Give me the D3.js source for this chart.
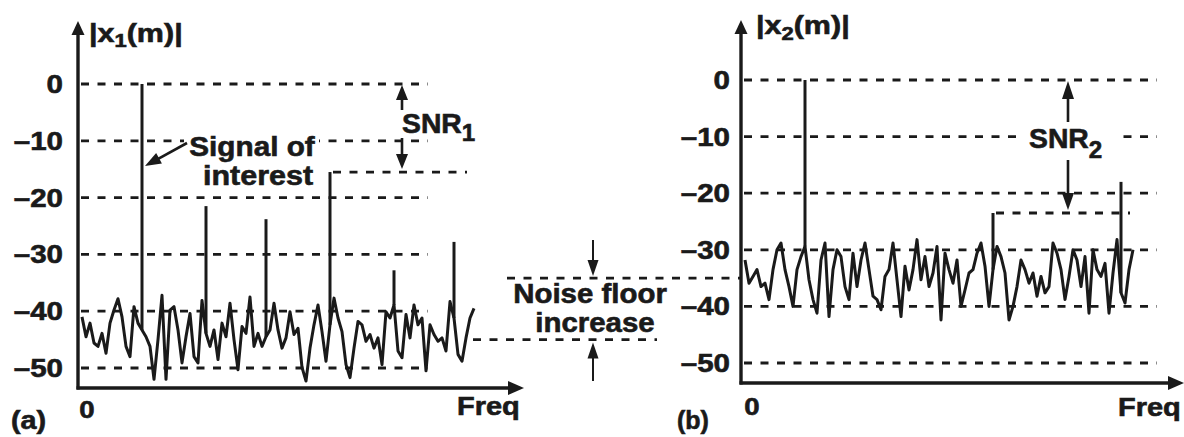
<!DOCTYPE html>
<html><head><meta charset="utf-8">
<script src="https://cdn.jsdelivr.net/npm/d3@7/dist/d3.min.js"></script>
<style>body{margin:0;background:#fff} svg{display:block}</style>
</head><body><svg id="c" width="1184" height="437"></svg>
<script>
// ---------- data ----------
const yTicks = [0, -10, -20, -30, -40, -50];
const tickLabels = ["0", "\u201310", "\u201320", "\u201330", "\u201340", "\u201350"];

// panel (a): noise floor samples, one per frequency bin
const noise1 = [-41.0,-44.5,-42.1,-45.6,-46.2,-43.9,-47.4,-42.1,-39.8,-37.8,
  -41.0,-46.2,-48.0,-39.2,-42.1,-43.3,-44.5,-46.2,-52.0,-45.0,
  -37.2,-52.0,-39.8,-39.2,-43.3,-49.1,-44.5,-40.4,-48.0,-49.1,
  -38.1,-43.9,-46.2,-43.3,-48.5,-42.1,-44.5,-38.6,-45.0,-50.3,
  -42.7,-43.9,-37.5,-46.2,-43.9,-46.2,-44.5,-43.3,-38.6,-43.3,
  -46.5,-44.7,-40.1,-44.1,-43.0,-49.9,-52.3,-46.5,-42.4,-38.9,
  -43.6,-48.8,-42.4,-37.7,-41.2,-43.6,-49.4,-51.7,-46.5,-41.8,
  -42.4,-45.3,-44.1,-46.5,-44.7,-49.4,-40.1,-41.2,-38.9,-47.0,
  -48.2,-40.6,-44.7,-38.9,-42.4,-41.2,-50.5,-42.4,-44.1,-45.3,
  -44.7,-47.0,-38.3,-41.2,-47.6,-48.8,-44.7,-41.2,-39.5];
const spikes1Bin = [15, 31, 46, 62, 78, 93];
const spikes1Val = [0, -21.5, -23.8, -15.5, -32.8, -27.8];

// panel (b)
const noise2 = [-31.8,-35.9,-34.7,-33.5,-36.5,-35.9,-38.8,-33.5,-30.0,-28.8,
  -33.5,-36.5,-40.0,-33.5,-31.2,-29.4,-35.3,-38.8,-41.2,-31.8,
  -28.8,-41.8,-33.5,-30.0,-31.2,-36.5,-38.8,-30.6,-36.5,-31.8,
  -28.8,-33.5,-38.2,-38.8,-40.6,-34.7,-33.5,-28.8,-35.3,-41.8,
  -32.9,-37.1,-33.5,-28.2,-35.3,-31.2,-36.5,-34.1,-29.4,-42.4,
  -30.6,-33.5,-35.9,-31.8,-40.0,-37.1,-34.1,-33.5,-30.6,-28.8,
  -32.9,-40.0,-33.5,-29.4,-31.2,-34.1,-42.4,-40.0,-36.5,-31.8,
  -33.5,-35.9,-34.1,-38.2,-34.7,-37.6,-36.5,-28.8,-30.6,-33.5,
  -38.8,-34.7,-30.0,-31.8,-36.5,-31.2,-41.2,-30.0,-33.5,-34.7,
  -32.4,-41.2,-34.1,-28.2,-37.6,-39.4,-33.5,-30.0];
const spikes2Bin = [15, 62, 94];
const spikes2Val = [0, -23.5, -18];

const snr1Bin = 62, snr1Level = -15.5;
const snr2Bin = 62, snr2Level = -23.5;
const floor1 = -45, floor2 = -35;

// ---------- drawing ----------
const INK = "#1a1a1a";
const svg = d3.select("#c");
const FONT = "'Liberation Sans', Arial, Helvetica, sans-serif";

function txt(x, y, s, fs, sx, anchor) {
  return svg.append("text")
    .attr("transform", `translate(${x},${y}) scale(${sx},1)`)
    .attr("text-anchor", anchor || "start")
    .attr("font-family", FONT).attr("font-weight", "bold")
    .attr("font-size", fs).attr("fill", INK)
    .attr("stroke", INK).attr("stroke-width", 0.6).text(s);
}
function subText(x, y, a, sub, b, fs, sfs, sx, dy) {
  const t = svg.append("text")
    .attr("transform", `translate(${x},${y}) scale(${sx},1)`)
    .attr("font-family", FONT).attr("font-weight", "bold")
    .attr("font-size", fs).attr("fill", INK)
    .attr("stroke", INK).attr("stroke-width", 0.6);
  t.append("tspan").text(a);
  t.append("tspan").attr("font-size", sfs).attr("dy", dy).text(sub);
  if (b) t.append("tspan").attr("dy", -dy).text(b);
  return t;
}
function arrow(x1, y1, x2, y2, hl, hw, sw) {
  const dx = x2 - x1, dy = y2 - y1, L = Math.hypot(dx, dy);
  const ux = dx / L, uy = dy / L;
  const bx = x2 - ux * hl, by = y2 - uy * hl;
  svg.append("line").attr("x1", x1).attr("y1", y1).attr("x2", bx + ux * 2).attr("y2", by + uy * 2)
    .attr("stroke", INK).attr("stroke-width", sw || 2.5);
  svg.append("polygon")
    .attr("points", `${x2},${y2} ${bx - uy * hw / 2},${by + ux * hw / 2} ${bx + uy * hw / 2},${by - ux * hw / 2}`)
    .attr("fill", INK);
}
function dashed(x1, x2, y) {
  svg.append("line").attr("x1", x1).attr("x2", x2).attr("y1", y).attr("y2", y)
    .attr("stroke", INK).attr("stroke-width", 2.8).attr("stroke-dasharray", "8,8.5");
}

function panel(cfg) {
  const { x, y, noise, sBin, sVal, gridEnd, axisEnd, yTop, labelRight } = cfg;
  yTicks.forEach((t, i) => {
    dashed(x.range()[0] + 3, gridEnd, y(t));
    txt(labelRight, y(t) + 9, tickLabels[i], 25, 1.18, "end");
  });
  const line = d3.line().x((d, i) => x(i)).y(d => y(d));
  svg.append("path").attr("d", line(noise)).attr("fill", "none")
    .attr("stroke", INK).attr("stroke-width", 3).attr("stroke-linejoin", "round");
  sBin.forEach((b, i) => {
    svg.append("line").attr("x1", x(b)).attr("x2", x(b))
      .attr("y1", y(noise[b])).attr("y2", y(sVal[i]))
      .attr("stroke", INK).attr("stroke-width", 3);
  });
  const x0 = x.range()[0], yb = y.range()[1] + cfg.axisGap;
  svg.append("line").attr("x1", x0).attr("x2", x0).attr("y1", yb + 1.5).attr("y2", yTop + 10)
    .attr("stroke", INK).attr("stroke-width", 3.4);
  arrow(x0, yTop + 14, x0, yTop, 14, 13, 3.4);
  svg.append("line").attr("x1", x0 - 1.5).attr("x2", axisEnd - 10).attr("y1", yb).attr("y2", yb)
    .attr("stroke", INK).attr("stroke-width", 3.4);
  arrow(axisEnd - 16, yb, axisEnd, yb, 16, 14, 3.4);
  return yb;
}

// panel (a)
const x1 = d3.scaleLinear().domain([-1, 110]).range([78, 522]);
const y1 = d3.scaleLinear().domain([0, -50]).range([84, 368]);
panel({ x: x1, y: y1, noise: noise1, sBin: spikes1Bin, sVal: spikes1Val,
  gridEnd: 428, axisEnd: 524, yTop: 21, labelRight: 63, axisGap: 20 });

// panel (b)
const x2 = d3.scaleLinear().domain([-1, 110]).range([741, 1185]);
const y2 = d3.scaleLinear().domain([0, -50]).range([80, 363]);
panel({ x: x2, y: y2, noise: noise2, sBin: spikes2Bin, sVal: spikes2Val,
  gridEnd: 1157, axisEnd: 1184, yTop: 20, labelRight: 730, axisGap: 20 });

// axis titles
subText(89, 42, "|x", "1", "(m)|", 25, 18, 1.22, 5);
subText(756, 34, "|x", "2", "(m)|", 25, 18, 1.22, 6);
txt(87, 418, "0", 24, 1.15, "middle");
txt(752, 415, "0", 24, 1.15, "middle");
txt(457, 415, "Freq", 25, 1.16, "start");
txt(1118, 416, "Freq", 25, 1.16, "start");
txt(11, 429, "(a)", 25, 1.15, "start");
txt(677, 429, "(b)", 25, 1.0, "start");

// SNR1 annotation
dashed(x1(snr1Bin) + 3, 467, y1(snr1Level));
arrow(402, 110, 402, y1(0) + 1, 15, 12, 2.6);
arrow(402, 138, 402, y1(snr1Level) - 3, 15, 12, 2.6);
subText(402, 133, "SNR", "1", null, 27, 23, 1.05, 8);

// Signal of interest
svg.append("rect").attr("x", 184).attr("y", 132).attr("width", 135).attr("height", 27).attr("fill", "#fff");
txt(252, 156, "Signal of", 27, 1.1, "middle");
txt(258, 185, "interest", 27, 1.13, "middle");
arrow(187, 143, x1(spikes1Bin[0]) + 3, 166, 16, 12, 2.6);

// SNR2 annotation
dashed(x2(snr2Bin) + 3, 1130, y2(snr2Level));
svg.append("rect").attr("x", 1022).attr("y", 125).attr("width", 94).attr("height", 33).attr("fill", "#fff");
arrow(1068, 122, 1068, y2(0) + 1, 18, 12, 2.6);
arrow(1068, 160, 1068, y2(snr2Level) - 3, 17, 12, 2.6);
subText(1029, 148, "SNR", "2", null, 27, 23, 1.05, 10);

// Noise floor increase
dashed(507, x2.range()[0], y2(floor2));
dashed(473, 657, y1(floor1));
arrow(593, 240, 593, y2(floor2) - 2, 16, 11, 2);
arrow(593, 381, 593, y1(floor1) + 3, 16, 11, 2);
txt(590, 303, "Noise floor", 27, 1.09, "middle");
txt(595, 332, "increase", 27, 1.09, "middle");
</script></body></html>
